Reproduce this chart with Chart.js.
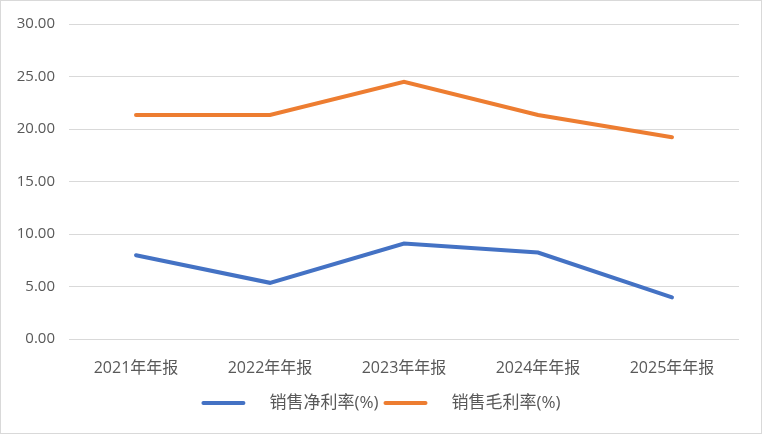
<!DOCTYPE html>
<html>
<head>
<meta charset="utf-8">
<script src="https://cdn.jsdelivr.net/npm/chart.js@4/dist/chart.umd.min.js"></script>
<style>
  body { margin: 0; background: #fff; }
  #wrap { position: absolute; left: 0; top: 0; width: 762px; height: 434px; box-sizing: border-box; border: 1px solid #d9d9d9; }
</style>
</head>
<body>
<div id="wrap"><canvas id="chart" width="760" height="432"></canvas></div>
<script>
var years = ["2021年年报", "2022年年报", "2023年年报", "2024年年报", "2025年年报"];
var netMargin = [7.98, 5.35, 9.09, 8.23, 3.96];
var grossMargin = [21.34, 21.34, 24.5, 21.34, 19.21];
var yTicks = [0, 5, 10, 15, 20, 25, 30];

var FONT = '"Open Sans", "Noto Sans CJK SC", sans-serif';
var TEXT = "#595959";

// legend drawn by hand so the gap between line and text matches
var bottomLegend = {
    id: "bottomLegend",
    afterDraw: function (chart) {
        var ctx = chart.ctx;
        ctx.save();
        ctx.font = "17px " + FONT;
        var lineW = 44, gap = 24, itemGap = 5;
        var sets = chart.data.datasets;
        var widths = sets.map(function (ds) { return lineW + gap + ctx.measureText(ds.label).width; });
        var total = widths.reduce(function (a, b) { return a + b; }, 0) + itemGap * (sets.length - 1);
        var x = (chart.width - total) / 2;
        var y = 402;
        sets.forEach(function (ds, i) {
            ctx.strokeStyle = ds.borderColor;
            ctx.lineWidth = 4;
            ctx.lineCap = "round";
            ctx.beginPath();
            ctx.moveTo(x + 2, y);
            ctx.lineTo(x + lineW - 2, y);
            ctx.stroke();
            ctx.fillStyle = TEXT;
            ctx.textBaseline = "middle";
            ctx.fillText(ds.label, x + lineW + gap, y);
            x += widths[i] + itemGap;
        });
        ctx.restore();
    }
};

var ctx = document.getElementById("chart").getContext("2d");
var chart = new Chart(ctx, {
    type: "line",
    data: {
        labels: years,
        datasets: [
            {
                label: "销售净利率(%)",
                data: netMargin,
                borderColor: "#4472C4",
                backgroundColor: "#4472C4",
                borderWidth: 4,
                borderCapStyle: "round",
                pointRadius: 0,
                fill: false,
                tension: 0
            },
            {
                label: "销售毛利率(%)",
                data: grossMargin,
                borderColor: "#ED7D31",
                backgroundColor: "#ED7D31",
                borderWidth: 4,
                borderCapStyle: "round",
                pointRadius: 0,
                fill: false,
                tension: 0
            }
        ]
    },
    options: {
        responsive: false,
        animation: false,
        layout: { padding: { top: 22, right: 22, bottom: 54, left: 0 } },
        plugins: {
            legend: { display: false },
            tooltip: { enabled: false }
        },
        scales: {
            x: {
                offset: true,
                grid: { display: false },
                border: { display: false },
                ticks: { color: TEXT, font: { family: FONT, size: 16 }, padding: 12, maxRotation: 0 },
                afterFit: function (s) { s.height = 40; }
            },
            y: {
                min: 0,
                max: 30,
                afterBuildTicks: function (s) { s.ticks = yTicks.map(function (v) { return { value: v }; }); },
                grid: { color: "#d9d9d9", lineWidth: 1, drawTicks: false },
                border: { display: false },
                ticks: {
                    color: TEXT,
                    font: { family: FONT, size: 15 },
                    padding: 14,
                    callback: function (v) { return Number(v).toFixed(2); }
                },
                afterFit: function (s) { s.width = 68; }
            }
        }
    },
    plugins: [bottomLegend]
});
</script>
</body>
</html>
